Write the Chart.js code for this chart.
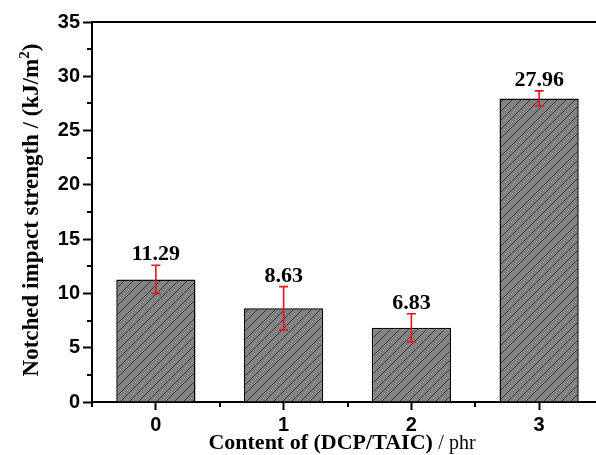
<!DOCTYPE html>
<html>
<head>
<meta charset="utf-8">
<script src="https://cdn.jsdelivr.net/npm/chart.js@4/dist/chart.umd.min.js"></script>
<style>
  html, body { margin: 0; padding: 0; background: #fff; overflow: hidden; }
  #wrap { width: 620px; height: 455px; }
</style>
</head>
<body>
<div id="wrap"><canvas id="impactChart" width="620" height="455"></canvas></div>
<script>
// values
const categories = ["0", "1", "2", "3"];
const strength = [11.29, 8.63, 6.83, 27.96];
const errors = [1.3, 2.0, 1.3, 0.7];
const yMin = 0, yMax = 35, yStep = 5;

const SANS = "'Liberation Sans', Arial, sans-serif";
const SERIF = "'Liberation Serif', 'Times New Roman', serif";

// gray fill with dark diagonal hatch
function hatchPattern() {
  const n = 9;
  const c = document.createElement("canvas");
  c.width = n; c.height = n;
  const g = c.getContext("2d");
  g.fillStyle = "#828282";
  g.fillRect(0, 0, n, n);
  g.strokeStyle = "#383838";
  g.lineWidth = 1;
  g.beginPath();
  g.moveTo(-1, n + 1); g.lineTo(n + 1, -1);
  g.moveTo(-1, 1); g.lineTo(1, -1);
  g.moveTo(n - 1, n + 1); g.lineTo(n + 1, n - 1);
  g.stroke();
  return g.createPattern(c, "repeat");
}

const extras = {
  id: "extras",
  afterDatasetsDraw(chart) {
    const { ctx, chartArea, scales: { x, y } } = chart;
    const meta = chart.getDatasetMeta(0);
    ctx.save();

    // top frame line
    ctx.strokeStyle = "#000";
    ctx.lineWidth = 2;
    ctx.beginPath();
    ctx.moveTo(chartArea.left - 1, chartArea.top);
    ctx.lineTo(chartArea.right + 1, chartArea.top);
    ctx.stroke();

    // minor ticks
    ctx.lineWidth = 2;
    ctx.beginPath();
    for (let v = yMin + yStep / 2; v < yMax; v += yStep) {
      const py = Math.round(y.getPixelForValue(v));
      ctx.moveTo(chartArea.left, py);
      ctx.lineTo(chartArea.left - 5, py);
    }
    const half = (x.getPixelForValue(1) - x.getPixelForValue(0)) / 2;
    for (let i = 0; i <= categories.length; i++) {
      const px = Math.round(x.getPixelForValue(i) - half);
      ctx.moveTo(px, chartArea.bottom);
      ctx.lineTo(px, chartArea.bottom + 5);
    }
    ctx.stroke();

    // error bars and value labels
    meta.data.forEach((bar, i) => {
      const cx = bar.x;
      const top = y.getPixelForValue(strength[i] + errors[i]);
      const bot = y.getPixelForValue(strength[i] - errors[i]);
      ctx.strokeStyle = "#e3141b";
      ctx.lineWidth = 1.6;
      ctx.beginPath();
      ctx.moveTo(cx, top); ctx.lineTo(cx, bot);
      ctx.moveTo(cx - 4.5, top); ctx.lineTo(cx + 4.5, top);
      ctx.moveTo(cx - 4.5, bot); ctx.lineTo(cx + 4.5, bot);
      ctx.stroke();

      ctx.fillStyle = "#000";
      ctx.font = "bold 22px " + SERIF;
      ctx.textAlign = "center";
      ctx.textBaseline = "alphabetic";
      ctx.fillText(strength[i].toFixed(2), cx, top - 5);
    });

    // y axis title with superscript
    ctx.save();
    ctx.translate(38, 210);
    ctx.rotate(-Math.PI / 2);
    ctx.fillStyle = "#000";
    ctx.textBaseline = "alphabetic";
    const yMain = "Notched impact strength / (kJ/m";
    ctx.font = "bold 23px " + SERIF;
    const w1 = ctx.measureText(yMain).width;
    const w3 = ctx.measureText(")").width;
    ctx.font = "bold 15px " + SERIF;
    const w2 = ctx.measureText("2").width;
    let sx = -(w1 + w2 + w3) / 2;
    ctx.textAlign = "left";
    ctx.font = "bold 23px " + SERIF;
    ctx.fillText(yMain, sx, 0);
    ctx.font = "bold 15px " + SERIF;
    ctx.fillText("2", sx + w1, -9);
    ctx.font = "bold 23px " + SERIF;
    ctx.fillText(")", sx + w1 + w2, 0);
    ctx.restore();

    // x axis title, bold part + regular unit
    const xBold = "Content of (DCP/TAIC) ";
    const xReg = "/ phr";
    ctx.font = "bold 22px " + SERIF;
    const b = ctx.measureText(xBold).width;
    ctx.font = "20px " + SERIF;
    const r = ctx.measureText(xReg).width;
    let tx = 342 - (b + r) / 2;
    ctx.textAlign = "left";
    ctx.fillStyle = "#000";
    ctx.font = "bold 22px " + SERIF;
    ctx.fillText(xBold, tx, 449);
    ctx.font = "20px " + SERIF;
    ctx.fillText(xReg, tx + b, 449);

    ctx.restore();
  }
};

new Chart(document.getElementById("impactChart"), {
  type: "bar",
  data: {
    labels: categories,
    datasets: [{
      data: strength,
      backgroundColor: hatchPattern(),
      borderColor: "#000",
      borderWidth: 1.5,
      categoryPercentage: 1,
      barPercentage: 0.62
    }]
  },
  options: {
    responsive: false,
    animation: false,
    layout: { padding: { top: 22, right: 17, left: 0, bottom: 0 } },
    plugins: {
      legend: { display: false },
      tooltip: { enabled: false }
    },
    scales: {
      x: {
        afterFit(s) { s.height = 53; },
        grid: { display: true, drawOnChartArea: false, offset: false, tickLength: 8, tickColor: "#000", tickWidth: 2 },
        border: { display: true, color: "#000", width: 2 },
        ticks: { color: "#000", font: { family: SANS, size: 20, weight: "bold" }, padding: 3 }
      },
      y: {
        min: yMin,
        max: yMax,
        afterFit(s) { s.width = 92; },
        grid: { display: true, drawOnChartArea: false, tickLength: 9, tickColor: "#000", tickWidth: 2 },
        border: { display: true, color: "#000", width: 2 },
        ticks: { stepSize: yStep, color: "#000", font: { family: SANS, size: 20, weight: "bold" }, padding: 3 }
      }
    }
  },
  plugins: [extras]
});
</script>
</body>
</html>
